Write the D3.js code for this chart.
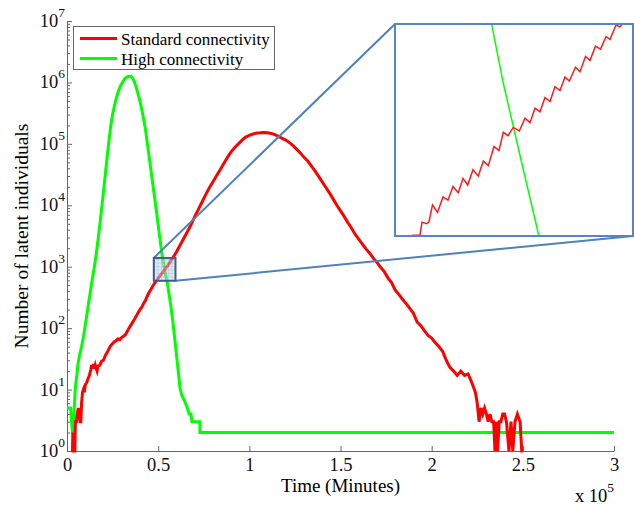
<!DOCTYPE html>
<html>
<head>
<meta charset="utf-8">
<style>
  html, body { margin: 0; padding: 0; background: #fff; }
  svg { display: block; }
  text { font-family: "Liberation Serif", "Times New Roman", serif; }
  .axis path, .axis line { stroke: #666; }
  .axis text { fill: #111; font-family: "Liberation Serif", "Times New Roman", serif; }
</style>
</head>
<body>
<svg width="634" height="505"></svg>
<script src="https://d3js.org/d3.v7.min.js"></script>
<script>

// time in thousands of minutes, counts of latent individuals
var redTime = [
  2.5, 3.0, 3.2, 3.6, 4.0, 4.3, 4.6, 5.2, 5.6, 6.2,
  6.8, 7.2, 7.6, 8.0, 8.5, 9.0, 9.5, 10, 10.8, 11.5,
  12.3, 13, 13.5, 14, 14.5, 15, 15.5, 16, 16.5, 17,
  18, 19, 20, 21, 22, 23, 24, 25, 26, 27,
  28, 29, 30, 31, 32, 33, 34, 35, 36, 37,
  38, 39, 40, 41, 42, 43, 44, 45, 46, 47,
  48, 49, 50, 51, 52, 53, 54, 55, 56, 57,
  58, 59, 60, 62, 64, 66, 68, 70, 72, 74,
  76, 78, 80, 82, 84, 86, 88, 90, 92, 94,
  96, 98, 100, 102, 104, 106, 108, 110, 112, 114,
  116, 118, 120, 122, 124, 126, 128, 130, 132, 134,
  136, 138, 140, 142, 144, 146, 148, 150, 152, 154,
  156, 158, 160, 162, 164, 166, 168, 170, 172, 174,
  176, 178, 180, 182, 184, 186, 188, 190, 192, 194,
  196, 198, 200, 202, 204, 206, 208, 210, 212, 214,
  216, 218, 220, 222, 224, 225, 226, 227, 228, 229,
  230, 231, 232, 233, 234, 234.7, 235.5, 236.2, 237, 238,
  239, 240, 241, 242.4, 243.5, 244.5, 245.7, 247, 248.5, 249.4,
  250
];
var redCount = [
  1, 1, 2, 1, 1, 1, 3, 3, 4, 5,
  4, 3, 3, 6, 9, 10, 9, 12, 13, 15,
  17, 21, 25, 22, 26, 22, 25, 22, 20, 24,
  25, 29, 30, 36, 40, 46, 52, 56, 60, 63,
  67, 65, 71, 74, 78, 88, 100, 112, 125, 140,
  158, 178, 200, 219, 251, 282, 331, 380, 427, 479,
  537, 589, 646, 708, 776, 851, 933, 1023, 1122, 1259,
  1380, 1549, 1738, 2239, 2884, 3715, 4786, 6457, 8511, 11220,
  14790, 19050, 23990, 30200, 38000, 47900, 60300, 74100, 87100, 100000,
  114800, 128800, 138000, 144500, 149600, 151000, 153000, 151000, 148000, 141000,
  132000, 123000, 115000, 104700, 93300, 81300, 70800, 60300, 52500, 43700,
  36300, 29500, 24000, 19500, 15800, 12600, 10000, 8130, 6600, 5250,
  4270, 3390, 2820, 2340, 1950, 1660, 1380, 1175, 977, 832,
  660, 550, 417, 355, 295, 251, 209, 174, 126, 110,
  91, 76, 69, 58, 50, 42, 30, 23, 20, 17,
  20, 17, 18, 13, 9, 6, 3, 5, 4, 5,
  4, 3, 4, 3, 3, 1, 3, 1, 3, 3,
  4, 4, 3, 1, 3, 1, 3, 4, 3, 1,
  1
];

var greenTime = [
  0, 2.0, 2.5, 3.0, 3.5, 4.0, 4.5, 5, 5.5, 6,
  7, 8, 9, 10, 11, 12, 13, 14, 15, 16,
  17, 18, 19, 20, 21, 22, 23, 24, 25, 26,
  27, 28, 29, 30, 31, 32, 33, 34, 35, 36,
  37, 38, 39, 40, 41, 42, 43, 44, 45, 46,
  47, 48, 49, 50, 51, 52, 53, 54, 55, 56,
  57, 58, 59, 60, 61, 62, 63, 64, 65, 66,
  67, 68, 68.5, 72.9, 72.9, 300
];
var greenCount = [
  5, 5, 3, 2, 2, 5, 10, 14, 18, 26,
  38, 50, 72, 110, 174, 275, 427, 661, 1000, 1585,
  2690, 4790, 8910, 16600, 31600, 60300, 112000, 199500, 302000, 417000,
  550000, 692000, 832000, 955000, 1072000, 1175000, 1230000, 1259000, 1259000, 1175000,
  1023000, 832000, 646000, 501000, 363000, 257000, 174000, 105000, 63100, 38000,
  22900, 13800, 8320, 4790, 2820, 1660, 1100, 776, 550, 355,
  224, 132, 71, 38, 20, 10.5, 8, 7, 6, 5,
  4, 4, 3, 3, 2, 2
];

// fine detail shown in the magnified inset (minutes, counts)
var insetRedTime = [
  48350, 48500, 48850, 48950, 49185, 49300, 49475, 49725, 50000, 50250,
  50500, 50765, 51000, 51235, 51500, 51765, 52015, 52265, 52550, 52800,
  53015, 53250, 53515, 53815, 54100, 54350, 54600, 54850, 55100, 55350,
  55600, 55850, 56100, 56315, 56625, 56850, 57125, 57350, 57625, 57875,
  58150, 58350, 58650, 58850, 59050, 59350
];
var insetRedCount = [
  560, 592, 592, 624, 620, 625, 669, 649, 691, 682,
  721, 703, 745, 725, 771, 752, 799, 784, 847, 834,
  897, 885, 915, 902, 950, 933, 989, 975, 1033, 1016,
  1079, 1062, 1122, 1104, 1167, 1146, 1219, 1200, 1271, 1256,
  1321, 1306, 1384, 1374, 1400, 1426
];

var zoomTime = [47600, 59500];
var zoomCount = [590, 1390];

var xTicks = [0, 50000, 100000, 150000, 200000, 250000, 300000];
var yDecades = [1, 10, 100, 1000, 10000, 100000, 1000000, 10000000];
var seriesNames = ["Standard connectivity", "High connectivity"];
var seriesColors = ["#ff0000", "#00ff00"];

var svg = d3.select("svg");

var x = d3.scaleLinear().domain([0, 300000]).range([67, 614]);
var y = d3.scaleLog().domain([1, 1e7]).range([451, 21]);

var redData = redTime.map(function(t, i) { return {t: t * 1000, v: redCount[i]}; });
var greenData = greenTime.map(function(t, i) { return {t: t * 1000, v: greenCount[i]}; });
var insetRed = insetRedTime.map(function(t, i) { return {t: t, v: insetRedCount[i]}; });

var line = d3.line()
    .x(function(d) { return x(d.t); })
    .y(function(d) { return y(d.v); });

// minor ticks
var minor = [];
yDecades.slice(0, -1).forEach(function(d) {
  for (var k = 2; k <= 9; k++) minor.push(d * k);
});

svg.append("g")
    .attr("class", "axis")
    .attr("transform", "translate(67,0)")
    .call(d3.axisLeft(y).tickValues(minor).tickSize(-3).tickFormat(""))
    .call(function(g) { g.select(".domain").remove(); });

svg.append("g")
    .attr("class", "axis")
    .attr("transform", "translate(67,0)")
    .call(d3.axisLeft(y).tickValues(yDecades).tickSize(-5).tickSizeOuter(0).tickFormat(""));

var ylab = svg.append("g").selectAll("text")
    .data(yDecades)
  .enter().append("text")
    .attr("x", 65)
    .attr("y", function(d) { return y(d) + 6; })
    .attr("text-anchor", "end")
    .style("font-size", "18.5px")
    .attr("fill", "#111");
ylab.append("tspan").text("10");
ylab.append("tspan")
    .attr("dy", -10)
    .style("font-size", "13.5px")
    .text(function(d) { return Math.round(Math.log10(d)); });

svg.append("g")
    .attr("class", "axis")
    .attr("transform", "translate(0,451)")
    .call(d3.axisBottom(x).tickValues(xTicks).tickSize(-5).tickSizeOuter(0).tickPadding(7)
        .tickFormat(function(d) { return d / 1e5; }))
    .call(function(g) {
      g.selectAll("text").style("font-size", "18.5px");
    });

// axis labels
svg.append("text")
    .attr("x", 340.5)
    .attr("y", 492)
    .attr("text-anchor", "middle")
    .style("font-size", "19px")
    .text("Time (Minutes)");

svg.append("text")
    .attr("transform", "translate(28,236) rotate(-90)")
    .attr("text-anchor", "middle")
    .style("font-size", "19.5px")
    .text("Number of latent individuals");

var mult = svg.append("text")
    .attr("x", 614)
    .attr("y", 502)
    .attr("text-anchor", "end")
    .style("font-size", "18.5px");
mult.append("tspan").text("x 10");
mult.append("tspan").attr("dy", -10).style("font-size", "13.5px").text("5");

// curves
svg.append("path")
    .datum(greenData)
    .attr("fill", "none")
    .attr("stroke", seriesColors[1])
    .attr("stroke-width", 3)
    .attr("d", line);

svg.append("path")
    .datum(redData)
    .attr("fill", "none")
    .attr("stroke", seriesColors[0])
    .attr("stroke-width", 3)
    .attr("d", line);

// zoom box on the main plot
var defs = svg.append("defs");
var pat = defs.append("pattern")
    .attr("id", "grid")
    .attr("width", 3.5)
    .attr("height", 3.5)
    .attr("patternUnits", "userSpaceOnUse");
pat.append("rect").attr("width", 3.5).attr("height", 3.5).attr("fill", "#c5d5ea");
pat.append("path").attr("d", "M0,0.3H3.5M0.3,0V3.5")
    .attr("stroke", "#7d9cc9").attr("stroke-width", 0.7);

var bx0 = x(zoomTime[0]), bx1 = x(zoomTime[1]);
var by0 = y(zoomCount[1]), by1 = y(zoomCount[0]);

// inset frame
var ix0 = 395, ix1 = 633, iy0 = 24, iy1 = 236;
var xi = d3.scaleLinear().domain(zoomTime).range([ix0, ix1]);
var yi = d3.scaleLog().domain(zoomCount).range([iy1, iy0]);

svg.append("line")
    .attr("x1", bx0).attr("y1", by0).attr("x2", ix0).attr("y2", iy0)
    .attr("stroke", "#4f81bd").attr("stroke-width", 2);
svg.append("line")
    .attr("x1", bx1).attr("y1", by1).attr("x2", ix1).attr("y2", iy1)
    .attr("stroke", "#4f81bd").attr("stroke-width", 2);

svg.append("rect")
    .attr("x", bx0).attr("y", by0)
    .attr("width", bx1 - bx0).attr("height", by1 - by0)
    .attr("fill", "url(#grid)")
    .attr("fill-opacity", 0.55)
    .attr("stroke", "#3b5f8c")
    .attr("stroke-width", 2);

defs.append("clipPath").attr("id", "insetClip")
  .append("rect")
    .attr("x", ix0).attr("y", iy0)
    .attr("width", ix1 - ix0).attr("height", iy1 - iy0);

svg.append("rect")
    .attr("x", ix0).attr("y", iy0)
    .attr("width", ix1 - ix0).attr("height", iy1 - iy0)
    .attr("fill", "#fff");

var lineInset = d3.line()
    .x(function(d) { return xi(d.t); })
    .y(function(d) { return yi(d.v); });

var ins = svg.append("g").attr("clip-path", "url(#insetClip)");
ins.append("path")
    .datum(greenData)
    .attr("fill", "none")
    .attr("stroke", seriesColors[1])
    .attr("stroke-width", 1.5)
    .attr("d", lineInset);
ins.append("path")
    .datum(insetRed)
    .attr("fill", "none")
    .attr("stroke", "#ff1a1a")
    .attr("stroke-width", 1.5)
    .attr("d", lineInset);

svg.append("rect")
    .attr("x", ix0).attr("y", iy0)
    .attr("width", ix1 - ix0).attr("height", iy1 - iy0)
    .attr("fill", "none")
    .attr("stroke", "#5585c5")
    .attr("stroke-width", 2);

// legend
var legend = svg.append("g");
legend.append("rect")
    .attr("x", 73.5).attr("y", 26.5)
    .attr("width", 201).attr("height", 43)
    .attr("fill", "#fff")
    .attr("stroke", "#666");
seriesNames.forEach(function(name, i) {
  var ly = 38.5 + i * 20;
  legend.append("line")
      .attr("x1", 80).attr("x2", 117)
      .attr("y1", ly).attr("y2", ly)
      .attr("stroke", seriesColors[i])
      .attr("stroke-width", 3);
  legend.append("text")
      .attr("x", 121)
      .attr("y", ly + 6)
      .style("font-size", "17px")
      .text(name);
});

</script>
</body>
</html>
